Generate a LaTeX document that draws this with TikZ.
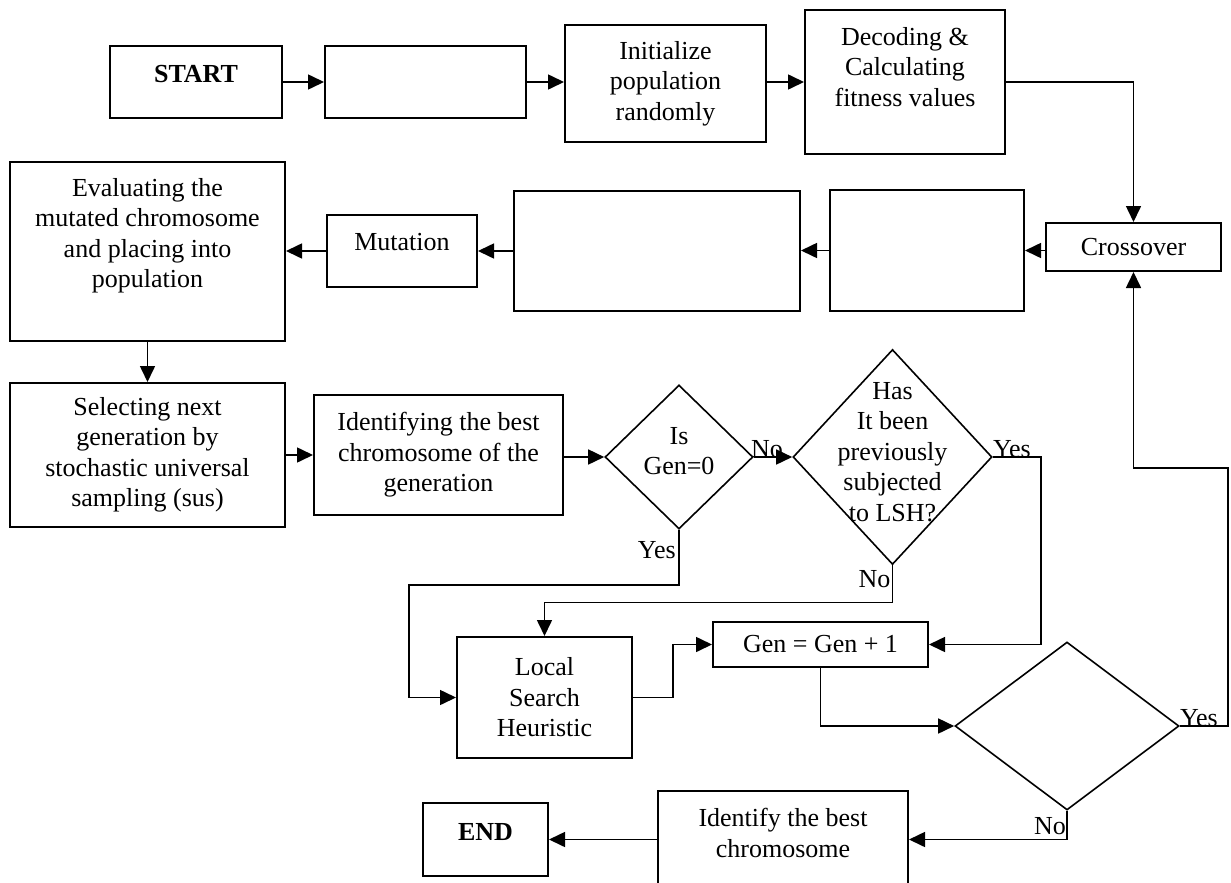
\documentclass[tikz,border=0pt]{standalone}
\usepackage{fontspec}
\setmainfont{Liberation Serif}
\usepackage{tikz}
\usetikzlibrary{arrows.meta,shapes.geometric,positioning}
\tikzstyle{arrow}     = [line width=1.6pt,-{Triangle[length=16pt,width=15pt]}]

\begin{document}
\begin{tikzpicture}[x=1pt, y=-1pt,
			font=\fontsize{26}{30.5}\selectfont,
			box/.style={draw, line width=2pt, rectangle, inner sep=0pt, align=center},
			decision/.style={draw, line width=1.6pt, diamond, inner sep=0pt, align=center},
			txt/.style={align=center, inner sep=0pt},
			lbl/.style={inner sep=0pt}]

		\useasboundingbox (0,0) rectangle (1231,883);
		\clip (0,0) rectangle (1231,883);

		% first row
		\node[box, minimum width=172, minimum height=72, label={[txt, yshift=8]center:\textbf{START}}] (start) at (196,82) {};
		\node[box, minimum width=201, minimum height=72] (blank1) at (425.5,82) {};
		\node[box, minimum width=201, minimum height=117] (init) at (665.5,83.5) {Initialize\\population\\randomly};
		\node[box, minimum width=200, minimum height=144, label={[txt, yshift=15]center:Decoding \&\\Calculating\\fitness values}] (decode) at (905,82) {};

		% second row
		\node[box, minimum width=175, minimum height=48] (cross) at (1133.5,247) {Crossover};
		\node[box, minimum width=194, minimum height=121] (blankA) at (927,250.5) {};
		\node[box, minimum width=286, minimum height=120] (blankB) at (657,251) {};
		\node[box, minimum width=150, minimum height=72, label={[txt, yshift=9]center:Mutation}] (mut) at (402,251) {};
		\node[box, minimum width=275, minimum height=179, label={[txt, yshift=16]center:Evaluating the\\mutated chromosome\\and placing into\\population}] (eval) at (147.5,251.5) {};

		% third row
		\node[box, minimum width=275, minimum height=144] (sel) at (147.5,455) {Selecting next\\generation by\\stochastic universal\\sampling (sus)};
		\node[box, minimum width=249, minimum height=120] (ident) at (438.5,455) {Identifying the best\\chromosome of the\\generation};
		\node[decision, minimum width=148, minimum height=144, label={[txt, yshift=6]center:Is\\Gen=0}] (isgen) at (679,457) {};
		\node[decision, minimum width=199, minimum height=215, label={[txt, yshift=5]center:Has\\It been\\previously\\subjected\\to LSH?}] (haslsh) at (892.5,457) {};

		% fourth row
		\node[box, minimum width=175, minimum height=121] (local) at (544.5,697.5) {Local\\Search\\Heuristic};
		\node[box, minimum width=215, minimum height=45] (gen) at (820.5,644.5) {Gen = Gen + 1};
		\node[decision, minimum width=224, minimum height=168] (check) at (1067,726) {};

		% last row
		\node[box, minimum width=250, minimum height=120, label={[txt, yshift=18]center:Identify the best\\chromosome}] (best) at (783,851) {};
		\node[box, minimum width=125, minimum height=73, label={[txt, yshift=7.5]center:\textbf{END}}] (end) at (485.5,839.5) {};

		% connectors
		\draw[arrow] (start) -- (blank1);
		\draw[arrow] (blank1.east) -- (blank1.east -| init.west);
		\draw[arrow] (init.east |- decode.west) -- (decode.west);
		\draw[arrow] (decode.east) -| (cross.north);
		\draw[arrow] (cross.west |- blankA.east) -- (blankA.east);
		\draw[arrow] (blankA.west) -- (blankA.west -| blankB.east);
		\draw[arrow] (blankB.west) -- (blankB.west -| mut.east);
		\draw[arrow] (mut.west) -- (mut.west -| eval.east);
		\draw[arrow] (eval.south) -- (sel.north);
		\draw[arrow] (sel.east |- ident.west) -- (ident.west);
		\draw[arrow] (ident.east |- isgen.west) -- (isgen.west);
		\draw[arrow] (isgen.east) -- (haslsh.west);
		\draw[arrow] (haslsh.east) -- ++(48,0) |- (gen.east);
		\draw[arrow] (isgen.south) -- ++(0,55) -| ([xshift=-47pt]local.west) -- (local.west);
		\draw[arrow] (haslsh.south) -- ++(0,37) -| (local.north);
		\draw[arrow] (local.east) -- ++(40,0) |- (gen.west);
		\draw[arrow] (gen.south) |- (check.west);
		\draw[arrow] (check.east) -- ++(48,0) -- ++(0,-258) -| (cross.south);
		\draw[arrow] (check.south) |- (best.east |- end.east);
		\draw[arrow] (best.west |- end.east) -- (end.east);

		% branch labels
		\node[lbl, anchor=base west] (no1) at ([shift={(-3,0)}]isgen.east) {No};
		\node[lbl, anchor=base west] (yes1) at (haslsh.east) {Yes};
		\node[lbl, anchor=base east] (yes2) at ([shift={(-3,29)}]isgen.south) {Yes};
		\node[lbl, anchor=base east] (no2) at ([shift={(-2,22)}]haslsh.south) {No};
		\node[lbl, anchor=base west] (yes3) at (check.east) {Yes};
		\node[lbl, anchor=base east] (no3) at ([shift={(-1,24)}]check.south) {No};
	\end{tikzpicture}
\end{document}
